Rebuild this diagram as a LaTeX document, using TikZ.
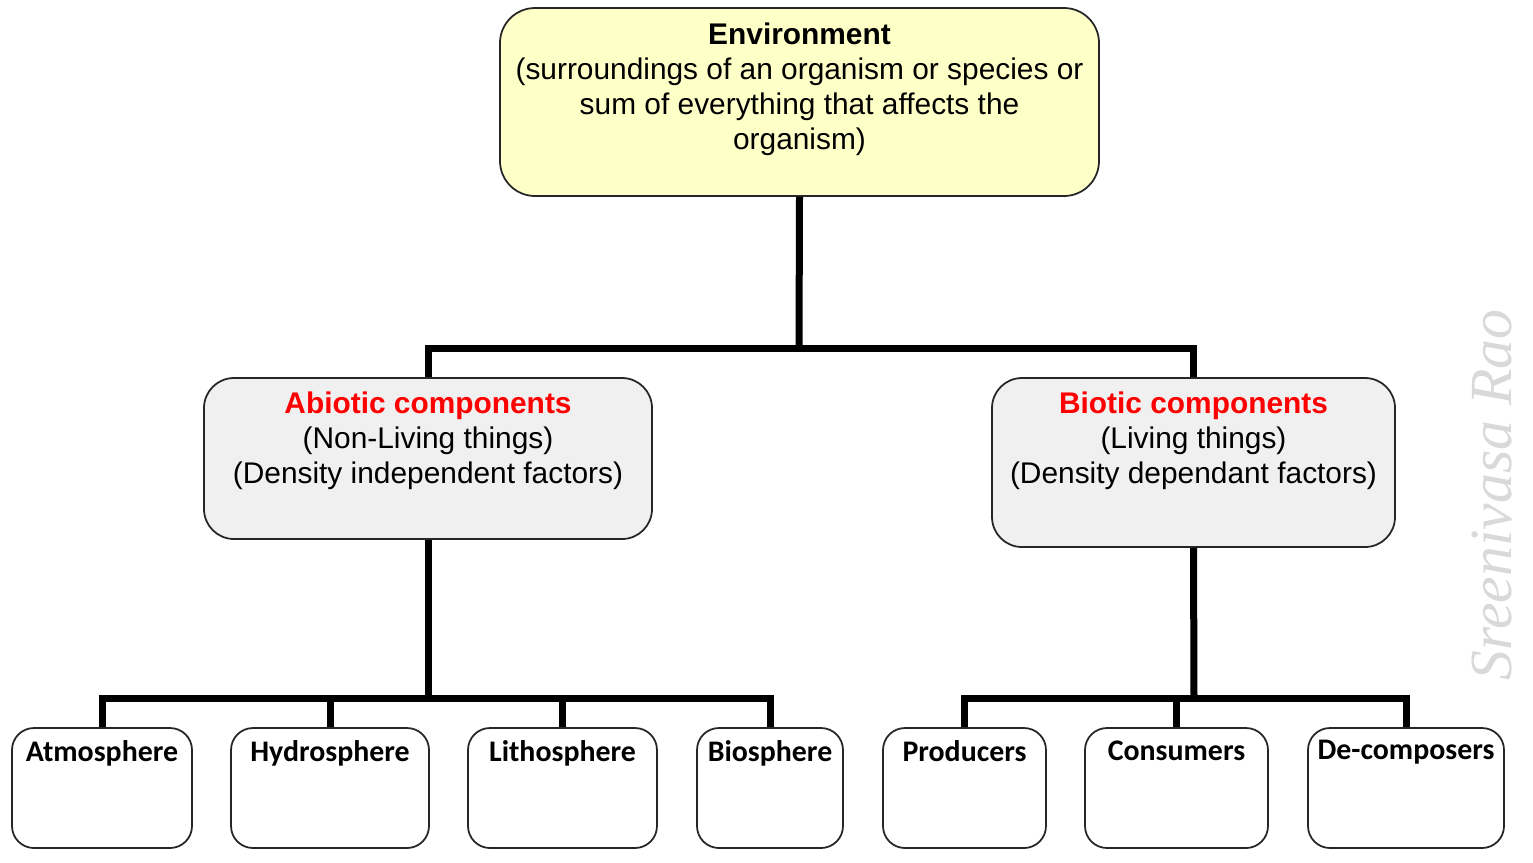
\documentclass[tikz,border=0pt]{standalone}
\usepackage{fontspec}
\setmainfont{Liberation Sans}
\newfontfamily\calfont{Carlito}
\newfontfamily\markfont{Liberation Serif}
\usetikzlibrary{positioning}
\definecolor{envyellow}{HTML}{FFFFC8}
\definecolor{compgray}{HTML}{F0F0F0}
\definecolor{compred}{HTML}{FF0000}
\begin{document}
\begin{tikzpicture}[x=0.2mm, y=-0.2mm,
        box/.style={draw=black!85, line width=1pt, rectangle},
        envbox/.style={box, fill=envyellow, rounded corners=7mm},
        compbox/.style={box, fill=compgray, rounded corners=6mm},
        leafbox/.style={box, fill=white, rounded corners=4.4mm, minimum height=24mm},
        boxtext/.style={inner sep=0pt, align=center, font=\fontsize{17}{20}\selectfont},
        leaftext/.style={inner sep=0pt, font=\calfont\bfseries\fontsize{17}{20}\selectfont},
        link/.style={line width=1.4mm, line join=miter}]
        \useasboundingbox (0,0) rectangle (1533,862);
        % top box
        \node[envbox, minimum width=119.8mm, minimum height=37.6mm] (env) at (799.5,102) {};
        \node[boxtext, below=3mm of env.north] (envtxt) {\textbf{Environment}\\(surroundings of an organism or species or\\sum of everything that affects the\\organism)};
        % component boxes
        \node[compbox, minimum width=89.6mm, minimum height=32.2mm] (abio) at (428,458.5) {};
        \node[compbox, minimum width=80.6mm, minimum height=33.8mm] (bio)  at (1193.5,462.5) {};
        \node[boxtext, below=2.8mm of abio.north] (abiotxt) {{\color{compred}\textbf{Abiotic components}}\\(Non-Living things)\\(Density independent factors)};
        \node[boxtext, below=2.8mm of bio.north]  (biotxt)  {{\color{compred}\textbf{Biotic components}}\\(Living things)\\(Density dependant factors)};
        % leaf boxes
        \node[leafbox, minimum width=36mm]   (atmo)   at (102,788)    {};
        \node[leafbox, minimum width=39.6mm] (hydro)  at (330,788)    {};
        \node[leafbox, minimum width=37.8mm] (litho)  at (562.5,788)  {};
        \node[leafbox, minimum width=29.2mm] (bios)   at (770,788)    {};
        \node[leafbox, minimum width=32.6mm] (prod)   at (964.5,788)  {};
        \node[leafbox, minimum width=36.6mm] (cons)   at (1176.5,788) {};
        \node[leafbox, minimum width=39.2mm] (decomp) at (1406,788)   {};
        \foreach \leaf/\name in {atmo/Atmosphere, hydro/Hydrosphere, litho/Lithosphere, bios/Biosphere,
                prod/Producers, cons/Consumers, decomp/De-composers}
            \node[leaftext, below=2.6mm of \leaf.north] (\leaf txt) {\name};
        % connectors
        \coordinate (busone)   at (799,348);
        \coordinate (bustwo)   at (428,698);
        \coordinate (busthree) at (1194,698);
        \draw[link] (env.south) -- (busone);
        \draw[link] (abio.north) |- (busone) -| (bio.north);
        \draw[link] (abio.south) -- (bustwo);
        \draw[link] (atmo.north) |- (bustwo) -| (bios.north);
        \draw[link] (hydro.north) -- (hydro.north |- bustwo);
        \draw[link] (litho.north) -- (litho.north |- bustwo);
        \draw[link] (bio.south) -- (busthree);
        \draw[link] (prod.north) |- (busthree) -| (decomp.north);
        \draw[link] (cons.north) -- (cons.north |- busthree);
        % watermark
        \node[rotate=90, text=black!15, font=\markfont\itshape\fontsize{34}{34}\selectfont] (mark) at (1492,495) {Sreenivasa Rao};
    \end{tikzpicture}
\end{document}
